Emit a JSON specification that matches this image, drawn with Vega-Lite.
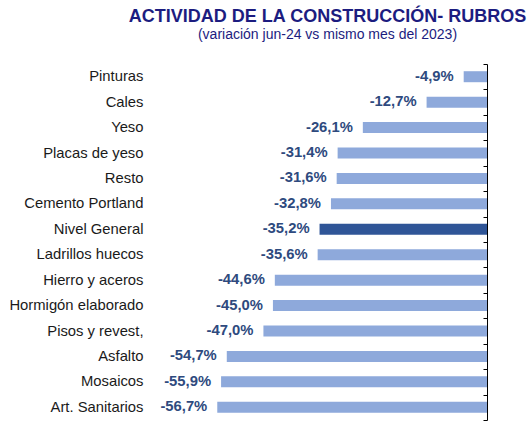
{
  "$schema": "https://vega.github.io/schema/vega-lite/v6.json",
  "width": 333,
  "height": 356,
  "autosize": {"type": "none"},
  "padding": {"left": 154, "top": 64, "right": 42, "bottom": 1},
  "background": "white",
  "title": {
    "text": "ACTIVIDAD DE LA CONSTRUCCIÓN- RUBROS",
    "subtitle": "(variación jun-24 vs mismo mes del 2023)",
    "anchor": "middle",
    "frame": "group",
    "dx": 7,
    "offset": 14,
    "font": "Liberation Sans",
    "fontSize": 18,
    "fontWeight": "bold",
    "color": "#1C1C80",
    "subtitleFont": "Liberation Sans",
    "subtitleFontSize": 14,
    "subtitleColor": "#1C1C80",
    "subtitlePadding": 2
  },
  "data": {
    "values": [
      {"rubro": "Pinturas", "valor": -4.9, "label": "-4,9%", "tipo": "rubro"},
      {"rubro": "Cales", "valor": -12.7, "label": "-12,7%", "tipo": "rubro"},
      {"rubro": "Yeso", "valor": -26.1, "label": "-26,1%", "tipo": "rubro"},
      {"rubro": "Placas de yeso", "valor": -31.4, "label": "-31,4%", "tipo": "rubro"},
      {"rubro": "Resto", "valor": -31.6, "label": "-31,6%", "tipo": "rubro"},
      {"rubro": "Cemento Portland", "valor": -32.8, "label": "-32,8%", "tipo": "rubro"},
      {"rubro": "Nivel General", "valor": -35.2, "label": "-35,2%", "tipo": "general"},
      {"rubro": "Ladrillos huecos", "valor": -35.6, "label": "-35,6%", "tipo": "rubro"},
      {"rubro": "Hierro y aceros", "valor": -44.6, "label": "-44,6%", "tipo": "rubro"},
      {"rubro": "Hormigón elaborado", "valor": -45.0, "label": "-45,0%", "tipo": "rubro"},
      {"rubro": "Pisos y revest,", "valor": -47.0, "label": "-47,0%", "tipo": "rubro"},
      {"rubro": "Asfalto", "valor": -54.7, "label": "-54,7%", "tipo": "rubro"},
      {"rubro": "Mosaicos", "valor": -55.9, "label": "-55,9%", "tipo": "rubro"},
      {"rubro": "Art. Sanitarios", "valor": -56.7, "label": "-56,7%", "tipo": "rubro"}
    ]
  },
  "encoding": {
    "y": {
      "field": "rubro",
      "type": "nominal",
      "sort": null,
      "scale": {"paddingInner": 0, "paddingOuter": 0},
      "axis": {
        "title": null,
        "orient": "left",
        "offset": -333,
        "domain": true,
        "domainColor": "#000000",
        "domainWidth": 1,
        "ticks": true,
        "tickBand": "extent",
        "tickSize": 4,
        "tickColor": "#000000",
        "labelPadding": 340,
        "labelFont": "Liberation Sans",
        "labelFontSize": 14.8,
        "labelColor": "#1a1a1a",
        "grid": false
      }
    }
  },
  "layer": [
    {
      "mark": {"type": "bar", "size": 11},
      "encoding": {
        "x": {
          "field": "valor",
          "type": "quantitative",
          "scale": {"domain": [-70, 0], "nice": false},
          "axis": null
        },
        "color": {
          "field": "tipo",
          "type": "nominal",
          "scale": {"domain": ["rubro", "general"], "range": ["#8EA9DB", "#2F5597"]},
          "legend": null
        }
      }
    },
    {
      "mark": {
        "type": "text",
        "align": "right",
        "baseline": "middle",
        "dx": -10,
        "font": "Liberation Sans",
        "fontSize": 14.8,
        "fontWeight": "bold",
        "color": "#2E4A7E"
      },
      "encoding": {
        "x": {"field": "valor", "type": "quantitative"},
        "text": {"field": "label"}
      }
    }
  ],
  "config": {"view": {"stroke": null}}
}
